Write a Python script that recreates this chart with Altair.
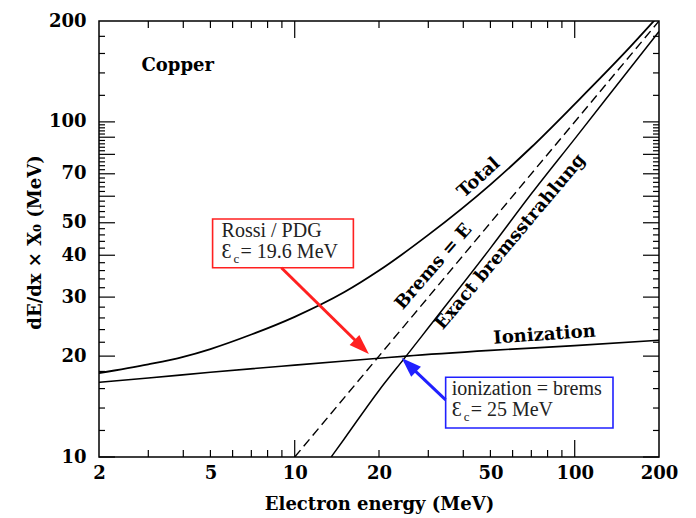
import altair as alt
import pandas as pd

# ---------------- data ----------------
ion_E = [2, 3, 5, 10, 20, 25, 50, 100, 200]
ion_v = [16.7, 17.2, 17.9, 18.8, 19.7, 20.0, 20.8, 21.5, 22.3]

tot_E = [2, 3, 4, 5, 7, 10, 15, 20, 30, 50, 70, 100, 150, 200]
tot_v = [17.8, 18.9, 19.9, 21.0, 23.2, 26.2, 31.0, 36, 46, 65, 84, 113, 160, 208]

brem_E = [13.5, 15, 20, 25, 30, 50, 70, 100, 150, 200]
brem_v = [10, 11.3, 15.8, 20.0, 24.3, 42, 61, 89, 137, 186]

approx_E = [10, 200]
approx_v = [10, 200]

x_labels = [2, 5, 10, 20, 50, 100, 200]
y_labels = [10, 20, 30, 40, 50, 70, 100, 200]

x_major = [10, 100]
x_minor = [3, 4, 5, 6, 7, 8, 9, 20, 30, 40, 50, 60, 70, 80, 90]
y_major = [10, 20, 30, 40, 50, 60, 70, 80, 90, 100]
y_minor = [v for v in range(12, 100, 2) if v % 10 != 0] + [120, 140, 160, 180]

# annotation anchors (data units)
lab_text = ["Total", "Brems = E", "Exact bremsstrahlung", "Ionization", "Copper"]
lab_E = [45.5, 31.4, 59, 78, 3.82]
lab_v = [68, 36.9, 43.8, 23.1, 147]
lab_angle = [318, 311, 310, 356, 0]

red_box = dict(E=5.09, E2=16.2, v=51.3, v2=36.7)
blue_box = dict(E=34.6, E2=137, v=17.3, v2=12.2)
red_arrow = dict(E=8.96, v=36.7, E2=17.4, v2=21.3, tipE=18.4, tipv=20.3)
blue_arrow = dict(E=34.6, v=14.8, E2=25.6, v2=18.8, tipE=24.1, tipv=19.76)

# ---------------- chart ----------------
W, H = 560, 436
SERIF = "DejaVu Serif"
BOXFONT = "Liberation Serif"
RED = "#ff2020"
BLUE = "#2020ff"

xs = alt.Scale(type="log", domain=[2, 200], nice=False)
ys = alt.Scale(type="log", domain=[10, 200], nice=False)

x_enc = alt.X("E:Q", scale=xs, axis=alt.Axis(
    values=x_labels, format="d", title="Electron energy (MeV)", ticks=False, tickSize=0,
    domain=False, grid=False, labelPadding=7, titlePadding=13, labelFont=SERIF,
    labelFontWeight="bold", labelFontSize=18, titleFont=SERIF, titleFontWeight="bold",
    titleFontSize=18, labelColor="black", titleColor="black", labelFlush=False,
    labelOverlap=False))
y_enc = alt.Y("v:Q", scale=ys, axis=alt.Axis(
    values=y_labels, format="d", title="dE/dx × X₀ (MeV)", ticks=False, tickSize=0,
    domain=False, grid=False, labelPadding=13, titlePadding=4, labelFont=SERIF,
    labelFontWeight="bold", labelFontSize=18, titleFont=SERIF, titleFontWeight="bold",
    titleFontSize=18, labelColor="black", titleColor="black", labelFlush=False,
    labelOverlap=False, titleY=221))


def line_df(E, v):
    return pd.DataFrame({"E": E, "v": v})


layers = []
# curves
layers.append(alt.Chart(line_df(ion_E, ion_v)).mark_line(color="black", strokeWidth=1.6, clip=True, interpolate="monotone").encode(x=x_enc, y=y_enc))
layers.append(alt.Chart(line_df(tot_E, tot_v)).mark_line(color="black", strokeWidth=1.8, clip=True, interpolate="monotone").encode(x=x_enc, y=y_enc))
layers.append(alt.Chart(line_df(brem_E, brem_v)).mark_line(color="black", strokeWidth=1.5, clip=True, interpolate="monotone").encode(x=x_enc, y=y_enc))
layers.append(alt.Chart(line_df(approx_E, approx_v)).mark_line(color="black", strokeWidth=1.4, strokeDash=[9, 5], clip=True).encode(x=x_enc, y=y_enc))

# inward tick marks
def xt(vals, L):
    d = pd.DataFrame({"E": vals})
    bot = alt.Chart(d).mark_rule(color="black", strokeWidth=1.2).encode(x=x_enc, y=alt.value(H), y2=alt.value(H - L))
    top = alt.Chart(d).mark_rule(color="black", strokeWidth=1.2).encode(x=x_enc, y=alt.value(0), y2=alt.value(L))
    return [bot, top]


def yt(vals, L):
    d = pd.DataFrame({"v": vals})
    left = alt.Chart(d).mark_rule(color="black", strokeWidth=1.2).encode(y=y_enc, x=alt.value(0), x2=alt.value(L))
    right = alt.Chart(d).mark_rule(color="black", strokeWidth=1.2).encode(y=y_enc, x=alt.value(W), x2=alt.value(W - L))
    return [left, right]


layers += xt(x_major, 17) + xt(x_minor, 7) + yt(y_major, 16) + yt(y_minor, 6)

# curve labels
for t, e, v, a in zip(lab_text, lab_E, lab_v, lab_angle):
    d = pd.DataFrame({"E": [e], "v": [v], "t": [t]})
    layers.append(alt.Chart(d).mark_text(font=SERIF, fontWeight="bold", fontSize=18, angle=a, color="black",
                                         align="center", baseline="middle").encode(x=x_enc, y=y_enc, text="t:N"))

# boxes
for box, col in [(red_box, RED), (blue_box, BLUE)]:
    d = pd.DataFrame({k: [val] for k, val in box.items()})
    layers.append(alt.Chart(d).mark_rect(fill="white", stroke=col, strokeWidth=1.6).encode(
        x=x_enc, x2="E2:Q", y=y_enc, y2="v2:Q"))

# box texts (offsets from the box's top-left corner)
def box_text(box, parts):
    out = []
    d = pd.DataFrame({"E": [box["E"]], "v": [box["v"]]})
    for txt, dx, dy, fs in parts:
        out.append(alt.Chart(d).mark_text(text=txt, font=BOXFONT, fontSize=fs, color="#222222", align="left",
                                          baseline="alphabetic", dx=dx, dy=dy).encode(x=x_enc, y=y_enc))
    return out


layers += box_text(red_box, [("Rossi / PDG", 9, 18, 20), ("Ɛ", 9, 39, 20), ("c", 21, 44, 13), ("= 19.6 MeV", 28, 39, 20)])
layers += box_text(blue_box, [("ionization = brems", 6, 18, 20), ("Ɛ", 6, 39, 20), ("c", 18, 44, 13), ("= 25 MeV", 25, 39, 20)])

# arrows
ARROW = "M0,0L-2,-0.7L-2,0.7Z"
for ar, col, ang in [(red_arrow, RED, 44), (blue_arrow, BLUE, 224)]:
    d = pd.DataFrame({k: [val] for k, val in ar.items()})
    layers.append(alt.Chart(d).mark_rule(color=col, strokeWidth=3).encode(x=x_enc, x2="E2:Q", y=y_enc, y2="v2:Q"))
    layers.append(alt.Chart(d).mark_point(shape=ARROW, filled=True, size=400, angle=ang, color=col, opacity=1,
                                          strokeWidth=0).encode(
        x=alt.X("tipE:Q", scale=xs), y=alt.Y("tipv:Q", scale=ys)))

chart = alt.layer(*layers).properties(
    width=W, height=H,
    autosize=alt.AutoSizeParams(type="none"),
    padding={"left": 91, "top": 13, "right": 29, "bottom": 60},
    background="white",
).configure_view(stroke="black", strokeWidth=1.5)

chart.save("out.html", embed_options={"renderer": "svg", "actions": False})
